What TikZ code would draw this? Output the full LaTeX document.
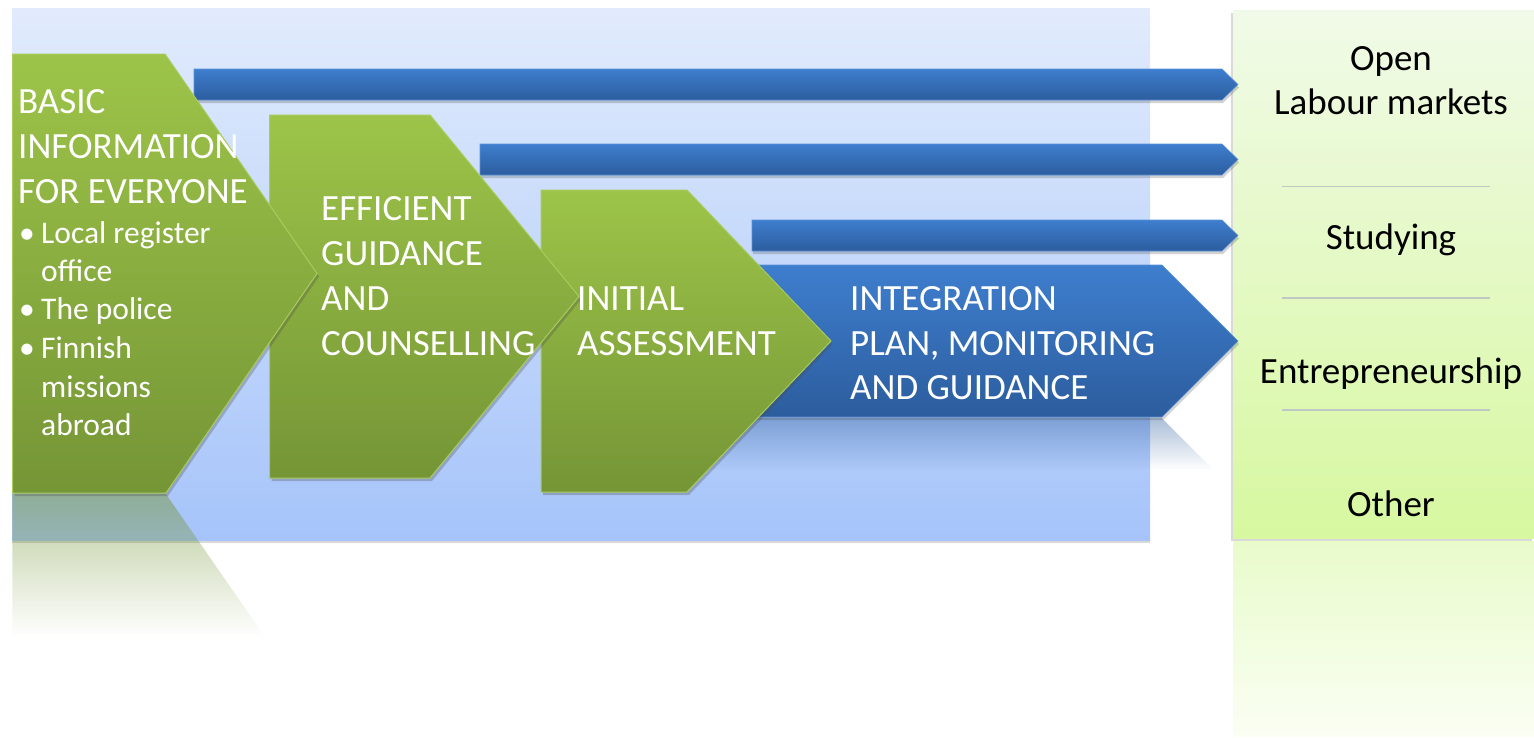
\documentclass[tikz,border=0pt]{standalone}
\usepackage{fontspec}
\setmainfont{Carlito}
\usetikzlibrary{shadows,fadings}
\definecolor{bgtop}{RGB}{225,235,252}
\definecolor{bgbot}{RGB}{166,196,250}
\definecolor{grtop}{RGB}{157,196,73}
\definecolor{grbot}{RGB}{117,149,54}
\definecolor{grline}{RGB}{168,204,92}
\definecolor{bltop}{RGB}{62,126,206}
\definecolor{blbot}{RGB}{44,93,158}
\definecolor{blline}{RGB}{90,145,215}
\definecolor{pntop}{RGB}{241,250,232}
\definecolor{pnbot}{RGB}{215,248,160}
\definecolor{divline}{RGB}{192,200,196}
\tikzfading[name=fadeG, top color=transparent!50, bottom color=transparent!100]
\tikzfading[name=fadeB, top color=transparent!60, bottom color=transparent!100]
\tikzfading[name=fadeP, top color=transparent!45, bottom color=transparent!88]
\tikzset{
  greenchev/.style={top color=grtop, bottom color=grbot, draw=grline, line width=1pt,
    drop shadow={shadow xshift=2pt, shadow yshift=-3pt, opacity=0.3, fill=black!70}},
  bluearrow/.style={top color=bltop, bottom color=blbot, draw=blline, line width=0.6pt,
    drop shadow={shadow xshift=1pt, shadow yshift=-3pt, opacity=0.25, fill=black!70}},
  wtext/.style={text=white, font=\fontsize{37}{44}\selectfont, inner sep=0pt, anchor=base west},
  stext/.style={text=white, font=\fontsize{31.5}{38}\selectfont, inner sep=0pt, anchor=base west},
  ptext/.style={text=black, font=\fontsize{37}{44}\selectfont, inner sep=0pt, anchor=base},
  divider/.style={draw=divline, line width=1.5pt}
}
\begin{document}
\begin{tikzpicture}[x=1pt,y=-1pt]
\useasboundingbox (0,0) rectangle (1534,737);
% background panel
\shade[top color=bgtop, bottom color=bgbot,
  drop shadow={shadow xshift=0pt, shadow yshift=-3pt, opacity=0.25, fill=black!60}]
  (12,8) rectangle (1150,540);
% right panel
\shade[top color=pntop, bottom color=pnbot,
  drop shadow={shadow xshift=-2pt, shadow yshift=-3pt, opacity=0.25, fill=black!60}]
  (1233,10) rectangle (1534,538);
\fill[pnbot, path fading=fadeP] (1233,541) rectangle (1534,737);
% reflections
\fill[grbot, path fading=fadeG] (12.5,494) -- (166,494) -- (265,637) -- (12.5,637) -- cycle;
\fill[blbot, path fading=fadeB] (700,418) -- (1162,418) -- (1214,470) -- (700,470) -- cycle;
% thin blue arrows
\path[bluearrow] (194,69) -- (1222,69) -- (1238,84.5) -- (1222,100) -- (194,100) -- cycle;
\path[bluearrow] (480,144) -- (1222,144) -- (1238,159.5) -- (1222,175) -- (480,175) -- cycle;
\path[bluearrow] (752,220) -- (1222,220) -- (1238,235.5) -- (1222,251) -- (752,251) -- cycle;
% big blue chevron
\path[bluearrow] (700,265) -- (1162,265) -- (1238,341) -- (1162,417) -- (700,417) -- cycle;
% green chevrons
\path[greenchev] (541,190) -- (687,190) -- (831,341) -- (687,492) -- (541,492) -- cycle;
\path[greenchev] (269.5,115) -- (430,115) -- (579,296.5) -- (430,478) -- (269.5,478) -- cycle;
\path[greenchev] (12.5,54) -- (165,54) -- (317,273.5) -- (166,493) -- (12.5,493) -- cycle;
% dividers
\draw[divider] (1282,186.5) -- (1490,186.5);
\draw[divider] (1282,298) -- (1490,298);
\draw[divider] (1282,410) -- (1490,410);
% texts chevron 1
\node[wtext] (t1a) at (18,113) {BASIC};
\node[wtext] (t1b) at (18,158) {INFORMATION};
\node[wtext] (t1c) at (18,203) {FOR EVERYONE};
\node[stext] (b1) at (19,243) {•};
\node[stext] (s1) at (41,243) {Local register};
\node[stext] (s2) at (41,281) {office};
\node[stext] (b2) at (19,319) {•};
\node[stext] (s3) at (41,319) {The police};
\node[stext] (b3) at (19,358) {•};
\node[stext] (s4) at (41,358) {Finnish};
\node[stext] (s5) at (41,397) {missions};
\node[stext] (s6) at (41,435) {abroad};
% texts chevron 2
\node[wtext] (t2a) at (321,220) {EFFICIENT};
\node[wtext] (t2b) at (321,265) {GUIDANCE};
\node[wtext] (t2c) at (321,310) {AND};
\node[wtext] (t2d) at (321,355) {COUNSELLING};
% texts chevron 3
\node[wtext] (t3a) at (577,310) {INITIAL};
\node[wtext] (t3b) at (577,355) {ASSESSMENT};
% texts blue chevron
\node[wtext] (t4a) at (850,310) {INTEGRATION};
\node[wtext] (t4b) at (850,355) {PLAN, MONITORING};
\node[wtext] (t4c) at (850,399) {AND GUIDANCE};
% right panel texts
\node[ptext] (p1) at (1391,70) {Open};
\node[ptext] (p2) at (1391,114) {Labour markets};
\node[ptext] (p3) at (1391,249) {Studying};
\node[ptext] (p4) at (1391,383) {Entrepreneurship};
\node[ptext] (p5) at (1391,516) {Other};
\end{tikzpicture}
\end{document}
